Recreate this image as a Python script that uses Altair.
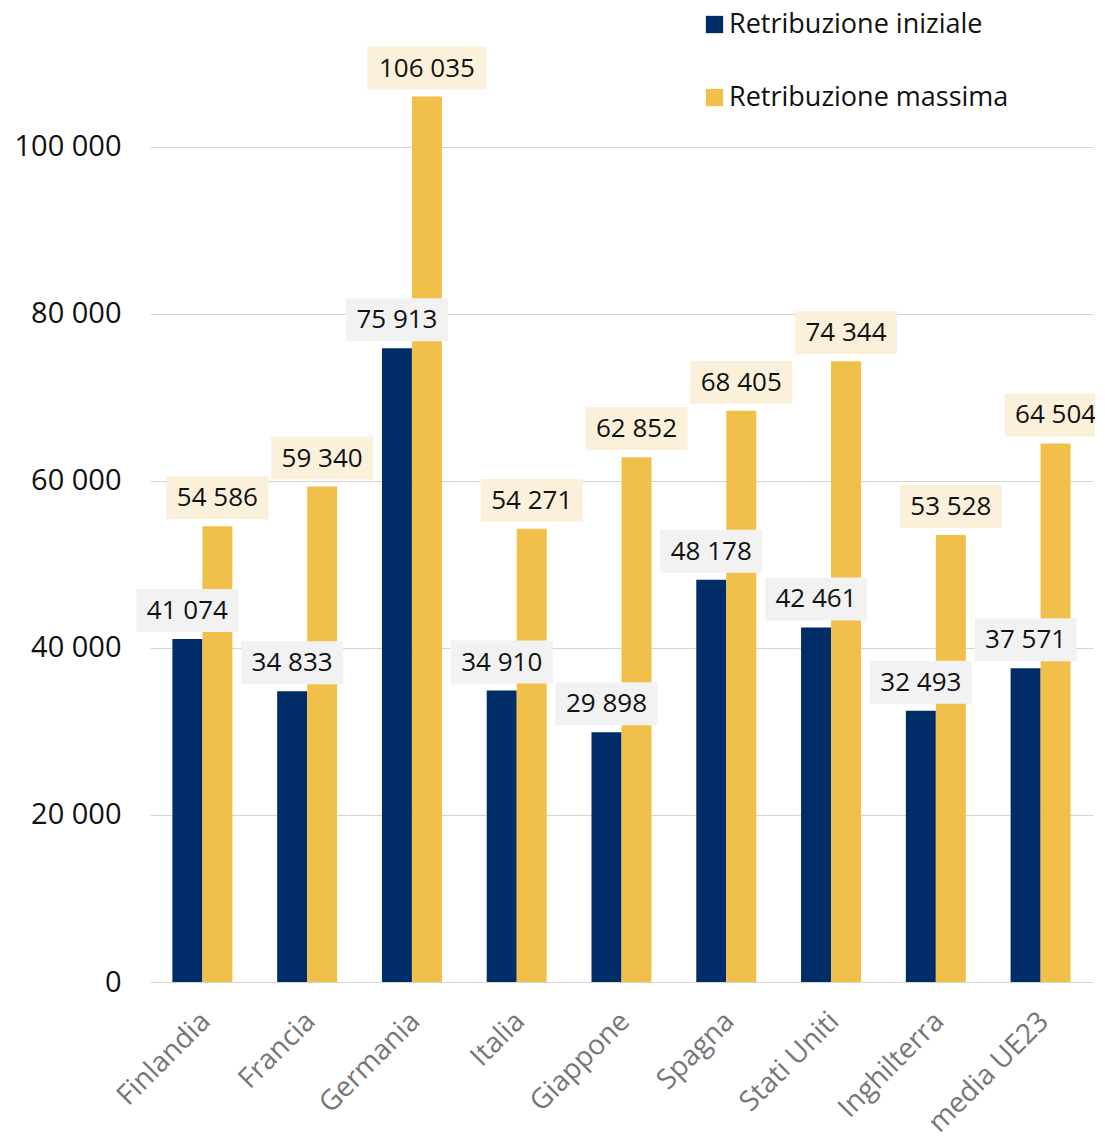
import altair as alt
import pandas as pd

countries = ["Finlandia", "Francia", "Germania", "Italia", "Giappone",
             "Spagna", "Stati Uniti", "Inghilterra", "media UE23"]
iniziale = [41074, 34833, 75913, 34910, 29898, 48178, 42461, 32493, 37571]
massima = [54586, 59340, 106035, 54271, 62852, 68405, 74344, 53528, 64504]
series_names = ["Retribuzione iniziale", "Retribuzione massima"]
y_ticks = [0, 20000, 40000, 60000, 80000, 100000]

NAVY = "#002D67"
GOLD = "#F0C04A"
BOX_NAVY = "#F2F2F2"
BOX_GOLD = "#FBF1DA"

rows = []
for c, a, b in zip(countries, iniziale, massima):
    rows.append({"paese": c, "serie": series_names[0], "valore": a,
                 "testo": f"{a:,}".replace(",", " ")})
    rows.append({"paese": c, "serie": series_names[1], "valore": b,
                 "testo": f"{b:,}".replace(",", " ")})
df = pd.DataFrame(rows)

FONT = "Open Sans"
x_enc = alt.X("paese:N", sort=countries, title=None,
              scale=alt.Scale(paddingInner=0.43, paddingOuter=0.215),
              axis=alt.Axis(labelAngle=-45, labelAlign="right", labelBaseline="top",
                            labelFont=FONT, labelFontSize=28, labelColor="#767676",
                            labelPadding=25, labelOffset=-6, ticks=False,
                            domain=False, grid=False))
y_scale = alt.Scale(domain=[0, 109940], nice=False)
y_enc = alt.Y("valore:Q", title=None, scale=y_scale,
              axis=alt.Axis(values=y_ticks, labelFont=FONT, labelFontSize=29,
                            labelColor="#111111", labelPadding=29, ticks=False,
                            domain=False, gridColor="#D4D4D4", gridWidth=1.2,
                            labelExpr="replace(format(datum.value, ','), ',', ' ')"))

base = alt.Chart(df)
color_enc = alt.Color("serie:N", title=None,
                      scale=alt.Scale(domain=series_names, range=[NAVY, GOLD]),
                      legend=alt.Legend(orient="none", legendX=551, legendY=-53,
                                        symbolType="square", symbolSize=300,
                                        symbolStrokeWidth=0, labelFont=FONT,
                                        labelFontSize=27, labelColor="#111111",
                                        rowPadding=45, labelOffset=1,
                                        labelLimit=400))

layers = []
for s, off in zip(series_names, [-15, 15]):
    layers.append(
        base.transform_filter(alt.datum.serie == s)
        .mark_bar(width=30, xOffset=off)
        .encode(x=x_enc, y=y_enc, color=color_enc)
    )

for s, off, boxcol in [(series_names[1], 15, BOX_GOLD), (series_names[0], -15, BOX_NAVY)]:
    sub = base.transform_filter(alt.datum.serie == s)
    layers.append(
        sub.transform_filter("length(datum.testo) <= 6")
        .mark_bar(width=102, xOffset=off, yOffset=-50, y2Offset=-7, color=boxcol)
        .encode(x=alt.X("paese:N", sort=countries), y=alt.Y("valore:Q", scale=y_scale),
                y2="valore:Q")
    )
    layers.append(
        sub.transform_filter("length(datum.testo) > 6")
        .mark_bar(width=119, xOffset=off, yOffset=-50, y2Offset=-7, color=boxcol)
        .encode(x=alt.X("paese:N", sort=countries), y=alt.Y("valore:Q", scale=y_scale),
                y2="valore:Q")
    )
    layers.append(
        sub.mark_text(dx=off, dy=-28, font=FONT, fontSize=26, color="#111111",
                      baseline="middle", align="center")
        .encode(x=alt.X("paese:N", sort=countries), y=alt.Y("valore:Q", scale=y_scale),
                text="testo:N")
    )

chart = alt.layer(*layers).properties(
    width=943, height=918,
    background="white",
    autosize=alt.AutoSizeParams(type="none"),
    padding={"left": 142, "top": 56, "right": 2, "bottom": 158},
).configure_view(stroke="transparent", strokeWidth=0)

chart.save("out.html", embed_options={"renderer": "svg", "actions": False})
